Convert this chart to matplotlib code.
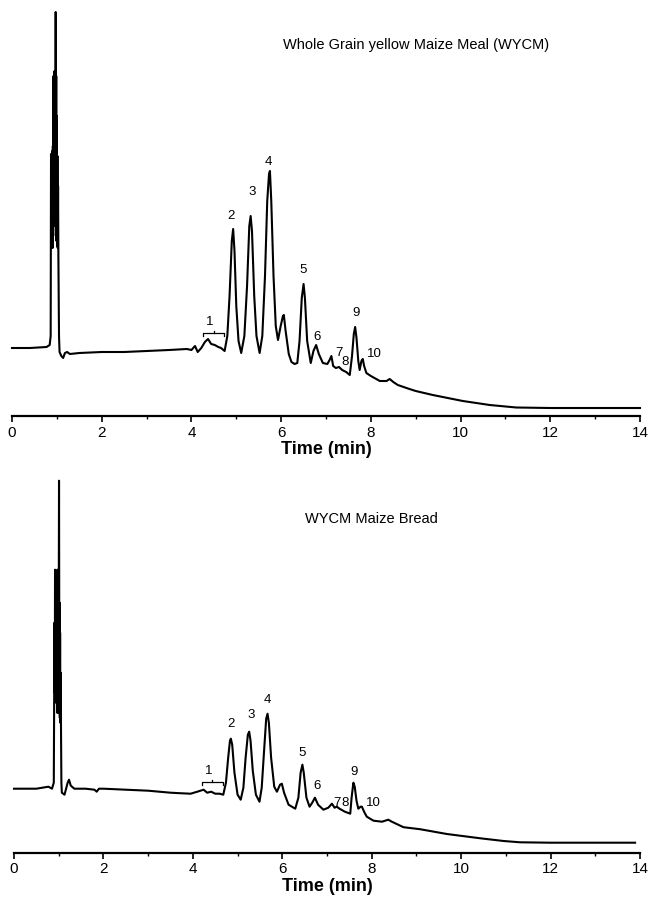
import matplotlib
matplotlib.use("Agg")
import matplotlib.pyplot as plt
import numpy as np

plt.rcParams['font.family'] = ['Liberation Sans', 'DejaVu Sans']

# --- trace 1: whole grain yellow maize meal (time in min, detector signal) ---
wycm_time = [0.00, 0.40, 0.77, 0.84, 0.862,
             0.870, 0.876, 0.883, 0.890, 0.897, 0.904, 0.911, 0.918, 0.924, 0.930,
             0.936, 0.942, 0.948, 0.954, 0.960, 0.966, 0.974, 0.980, 0.986, 0.992,
             0.999, 1.006, 1.013, 1.020, 1.027, 1.034, 1.041, 1.048,
             1.060, 1.100, 1.140, 1.180, 1.230, 1.290, 1.5, 2.0, 2.5, 3.0, 3.5, 3.9,
             4.00, 4.08, 4.14, 4.22, 4.30, 4.37, 4.44, 4.52, 4.60, 4.66, 4.74,
             4.80, 4.85, 4.90, 4.93, 4.96, 5.00, 5.05, 5.11,
             5.18, 5.24, 5.29, 5.32, 5.35, 5.40, 5.45, 5.52,
             5.58, 5.64, 5.69, 5.73, 5.75, 5.78, 5.83, 5.88, 5.93,
             5.99, 6.04, 6.06, 6.10, 6.17, 6.23, 6.30, 6.36,
             6.41, 6.46, 6.50, 6.53, 6.58, 6.66,
             6.72, 6.78, 6.84, 6.93,
             7.03, 7.08, 7.12, 7.16, 7.22, 7.29, 7.36, 7.45, 7.53,
             7.58, 7.62, 7.65, 7.68, 7.72, 7.75, 7.79, 7.82, 7.85, 7.90,
             8.0, 8.2, 8.35, 8.42, 8.50, 8.6, 8.86, 9.0, 9.38, 10.05, 10.65, 11.24,
             12.0, 13.0, 14.0]
wycm_signal = [68, 68, 69, 71, 80,
               262, 170, 258, 175, 265, 168, 270, 180, 340, 200,
               335, 190, 345, 210, 330, 190, 404, 230, 340, 175,
               300, 170, 260, 168, 230, 160, 120, 80,
               64, 60, 58, 63, 64, 62, 63, 64, 64, 65, 66, 67,
               66, 70, 64, 68, 74, 77, 72, 71, 69, 68, 65,
               80, 120, 175, 187, 165, 110, 75, 63,
               80, 130, 190, 200, 185, 120, 80, 63,
               80, 140, 215, 242, 245, 215, 140, 90, 76,
               90, 100, 101, 85, 62, 54, 52, 53,
               75, 118, 132, 118, 75, 53,
               65, 71, 62, 53,
               52, 56, 60, 50, 48, 49, 46, 44, 41,
               60, 82, 89, 78, 55, 46, 55, 57, 50, 43,
               40, 35, 35, 37, 34, 31, 27, 25, 21, 15, 11, 8.5,
               8, 8, 8]

# --- trace 2: WYCM maize bread ---
bread_time = [0.00, 0.50, 0.77, 0.85, 0.890,
              0.898, 0.905, 0.912, 0.918, 0.925, 0.932, 0.939, 0.946, 0.952, 0.958,
              0.964, 0.970, 0.976, 0.982, 0.988, 0.994, 1.000, 1.007, 1.013, 1.019,
              1.025, 1.031, 1.037, 1.044, 1.051, 1.060,
              1.070, 1.13, 1.20, 1.23, 1.27, 1.35, 1.6, 1.80, 1.85, 1.90, 2.0, 2.5,
              3.0, 3.5, 3.71, 3.95,
              4.10, 4.24, 4.32, 4.41, 4.50, 4.60, 4.68,
              4.74, 4.79, 4.83, 4.85, 4.88, 4.93, 5.00, 5.07,
              5.13, 5.18, 5.23, 5.26, 5.29, 5.34, 5.41, 5.49,
              5.54, 5.59, 5.64, 5.67, 5.70, 5.75, 5.82, 5.88, 5.95, 5.99, 6.04, 6.14, 6.29,
              6.36, 6.41, 6.45, 6.48, 6.54, 6.61,
              6.67, 6.73, 6.80, 6.92,
              7.03, 7.11, 7.17, 7.22, 7.28, 7.40, 7.52,
              7.55, 7.59, 7.62, 7.66, 7.70, 7.75, 7.78, 7.84, 7.89,
              8.04, 8.23, 8.37, 8.45, 8.71, 9.08, 9.68, 10.43, 10.95, 11.32, 12.0, 13.89]
bread_signal = [64, 64, 66, 64, 70,
                150, 230, 160, 283, 180, 270, 150, 280, 200, 275,
                140, 283, 210, 270, 140, 280, 230, 372, 210, 250,
                135, 220, 130, 180, 125, 70,
                60, 58, 70, 73, 67, 64, 64, 63, 61, 64, 64, 63,
                62, 60, 59.5, 59,
                61, 63, 60, 61, 59, 59, 58,
                70, 95, 112, 114, 108, 80, 58, 53,
                65, 95, 118, 121, 112, 82, 58, 51,
                65, 100, 134, 139, 130, 95, 66, 61, 68, 69, 60, 48, 44,
                55, 80, 88, 80, 55, 46,
                50, 55, 48, 43,
                45, 49, 45, 46, 44, 41, 39,
                55, 70, 66, 52, 44, 46, 46, 40, 36,
                32, 31, 33, 31, 25.5, 23.5, 18.7, 14.4, 11.7, 10.4, 10, 10]

# peak numbers and where they are written (time, signal)
peak_names = ['1', '2', '3', '4', '5', '6', '7', '8', '9', '10']
wycm_label_t = [4.41, 4.875, 5.35, 5.71, 6.49, 6.80, 7.29, 7.43, 7.66, 8.07]
wycm_label_s = [94, 200, 224, 254, 146, 79, 63, 54, 103, 62]
bread_label_t = [4.36, 4.85, 5.30, 5.67, 6.44, 6.77, 7.23, 7.40, 7.60, 8.03]
bread_label_s = [82, 129, 138, 153, 100, 67, 50, 50, 81, 50]

# bracket over peak group 1: start, end, height
wycm_bracket = [4.26, 4.73, 83]
bread_bracket = [4.20, 4.67, 71]

fig = plt.figure(figsize=(6.53, 8.99), dpi=100)

panels = [
    ([12 / 653, 1 - 416 / 899, 628 / 653, 416 / 899], 416,
     wycm_time, wycm_signal, wycm_label_t, wycm_label_s, wycm_bracket),
    ([14 / 653, 1 - 852.7 / 899, 626 / 653, 392 / 899], 392,
     bread_time, bread_signal, bread_label_t, bread_label_s, bread_bracket),
]

for rect, ytop, t, s, lt, ls, br in panels:
    ax = fig.add_axes(rect)
    ax.plot(t, s, color='black', lw=1.5, clip_on=False)
    ax.set_xlim(0, 14)
    ax.set_ylim(0, ytop)
    for side in ['top', 'right', 'left']:
        ax.spines[side].set_visible(False)
    ax.spines['bottom'].set_linewidth(1.6)
    ax.set_yticks([])
    ax.set_xticks(np.arange(0, 15, 2))
    ax.set_xticks(np.arange(1, 14, 2), minor=True)
    ax.tick_params(axis='x', which='major', direction='out', length=4, width=1.2,
                   labelsize=11, pad=3)
    ax.tick_params(axis='x', which='minor', direction='out', length=2.5, width=1)
    ax.set_xlabel('Time (min)', fontsize=13, fontweight='bold', labelpad=1)

    for name, x, y in zip(peak_names, lt, ls):
        ax.text(x, y, name, fontsize=9.5, ha='center', va='center')

    # bracket for the peak-1 cluster
    b0, b1, bh = br
    ax.plot([b0, b0, b1, b1], [bh - 3, bh, bh, bh - 3], color='black', lw=0.9)
    ax.plot([(b0 + b1) / 2] * 2, [bh, bh + 2], color='black', lw=0.9)

fig.text(416 / 653, 1 - 45 / 899, 'Whole Grain yellow Maize Meal (WYCM)',
         fontsize=10.5, ha='center', va='center')
fig.text(371 / 653, 1 - 519 / 899, 'WYCM Maize Bread',
         fontsize=10.5, ha='center', va='center')

fig.savefig('out.png', dpi=100)
